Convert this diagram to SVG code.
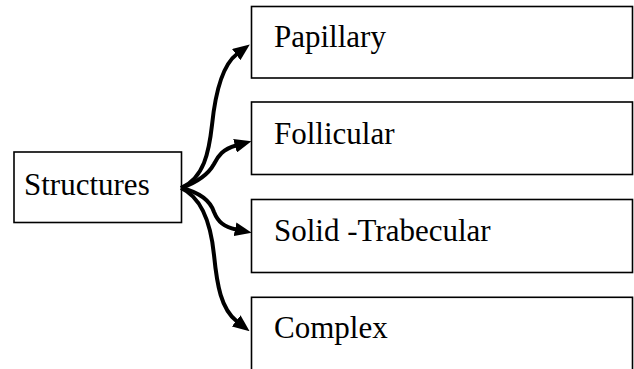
<svg xmlns="http://www.w3.org/2000/svg" width="634" height="369" viewBox="0 0 634 369">
  <style>
    .box { fill: #ffffff; stroke: #000000; stroke-width: 1.6; }
    .lbl { font-family: "Liberation Serif", "Times New Roman", serif; font-size: 31px; fill: #000000; }
    .conn { fill: none; stroke: #000000; stroke-width: 4; stroke-linecap: butt; }
  </style>
  <defs>
    <marker id="arrow" viewBox="0 0 17 14" refX="1" refY="7" markerWidth="17" markerHeight="14" markerUnits="userSpaceOnUse" orient="auto">
      <path d="M0,0 L17,7 L0,14 z" fill="#000000"/>
    </marker>
  </defs>
  <rect width="634" height="369" fill="#ffffff"/>

  <g id="node-structures">
    <rect class="box" x="14" y="152" width="167.5" height="70.5"/>
    <text class="lbl" x="24" y="195">Structures</text>
  </g>
  <g id="node-papillary">
    <rect class="box" x="251.5" y="6.5" width="381" height="71.5"/>
    <text class="lbl" x="274" y="47">Papillary</text>
  </g>
  <g id="node-follicular">
    <rect class="box" x="251.5" y="102" width="381" height="72.5"/>
    <text class="lbl" x="274" y="144">Follicular</text>
  </g>
  <g id="node-solid-trabecular">
    <rect class="box" x="251.5" y="199.5" width="381" height="73"/>
    <text class="lbl" x="274" y="241">Solid -Trabecular</text>
  </g>
  <g id="node-complex">
    <rect class="box" x="251.5" y="297.3" width="381" height="90"/>
    <text class="lbl" x="274" y="338">Complex</text>
  </g>

  <g id="connectors">
    <path class="conn" marker-end="url(#arrow)" d="M181,188 C204,178 209,152 212,125 C215,96 221,66 237,54"/>
    <path class="conn" marker-end="url(#arrow)" d="M181,188 C198,182 208,175 214,164 C218,156 223,149 236,145.5"/>
    <path class="conn" marker-end="url(#arrow)" d="M181,188 C198,192 210,200 214,212 C218,222 224,227 236,229.5"/>
    <path class="conn" marker-end="url(#arrow)" d="M181,188 C203,198 211,225 214,255 C217,285 221,309 237,321.5"/>
  </g>
</svg>
